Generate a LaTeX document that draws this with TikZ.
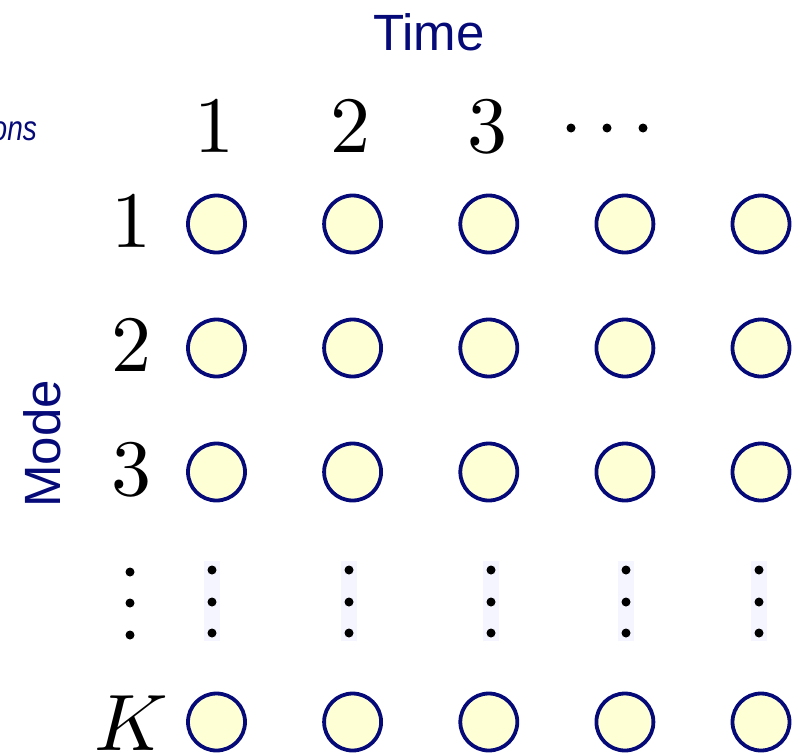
\documentclass[tikz,border=0pt]{standalone}
\usepackage{fontspec}
\usepackage{unicode-math}
\setmathfont{Latin Modern Math}
\newfontfamily\sansf{Liberation Sans}
\definecolor{navy}{RGB}{5,10,120}
\definecolor{nodefill}{RGB}{255,255,214}
\definecolor{lav}{RGB}{245,245,255}
\tikzset{
  stnode/.style={circle,draw=navy,line width=3.8pt,fill=nodefill,minimum size=57pt,inner sep=0pt},
  lbl/.style={font=\fontsize{80}{96}\selectfont,inner sep=0pt,anchor=base},
  axis/.style={font=\sansf\fontsize{51}{60}\selectfont,text=navy,inner sep=0pt,anchor=base},
  bigdot/.style={fill=black},
}
\begin{document}
\begin{tikzpicture}[x=1pt,y=-1pt]
\useasboundingbox (0,0) rectangle (795,755);
\clip (0,0) rectangle (795,755);
% axis titles
\node[axis] (time) at (429,50) {Time};
\node[axis,rotate=90] (mode) at (60,444) {Mode};
\node[font=\sansf\itshape\fontsize{35}{42}\selectfont,text=navy,inner sep=0pt,anchor=base east,xscale=0.8] (obs) at (37,140) {ons};
% column headers
\node[lbl] (c1) at (214,152) {$1$};
\node[lbl] (c2) at (350,152) {$2$};
\node[lbl] (c3) at (487,152) {$3$};
\foreach \x in {571,607,643} \fill[bigdot] (\x,128) circle (4.5);
% row labels
\node[lbl] (r1) at (131,247) {$1$};
\node[lbl] (r2) at (131,371) {$2$};
\node[lbl] (r3) at (131,495) {$3$};
\node[lbl] (rK) at (131,750) {$K$};
\foreach \y in {572,603,635} \fill[bigdot] (130,\y) circle (4.5);
% nodes
\foreach \x [count=\c] in {216.5,352.6,488.8,624.9,761}{
  \foreach \y/\r in {224/1,348/2,472/3,722/K}{
    \node[stnode] (n\r\c) at (\x,\y) {};
  }
}
% vertical dots columns
\foreach \x in {212,349,491,626,759}{
  \fill[lav] (\x-8,561) rectangle (\x+8,641);
  \foreach \y in {570,602,633} \fill[bigdot] (\x,\y) circle (4.5);
}
\end{tikzpicture}
\end{document}
